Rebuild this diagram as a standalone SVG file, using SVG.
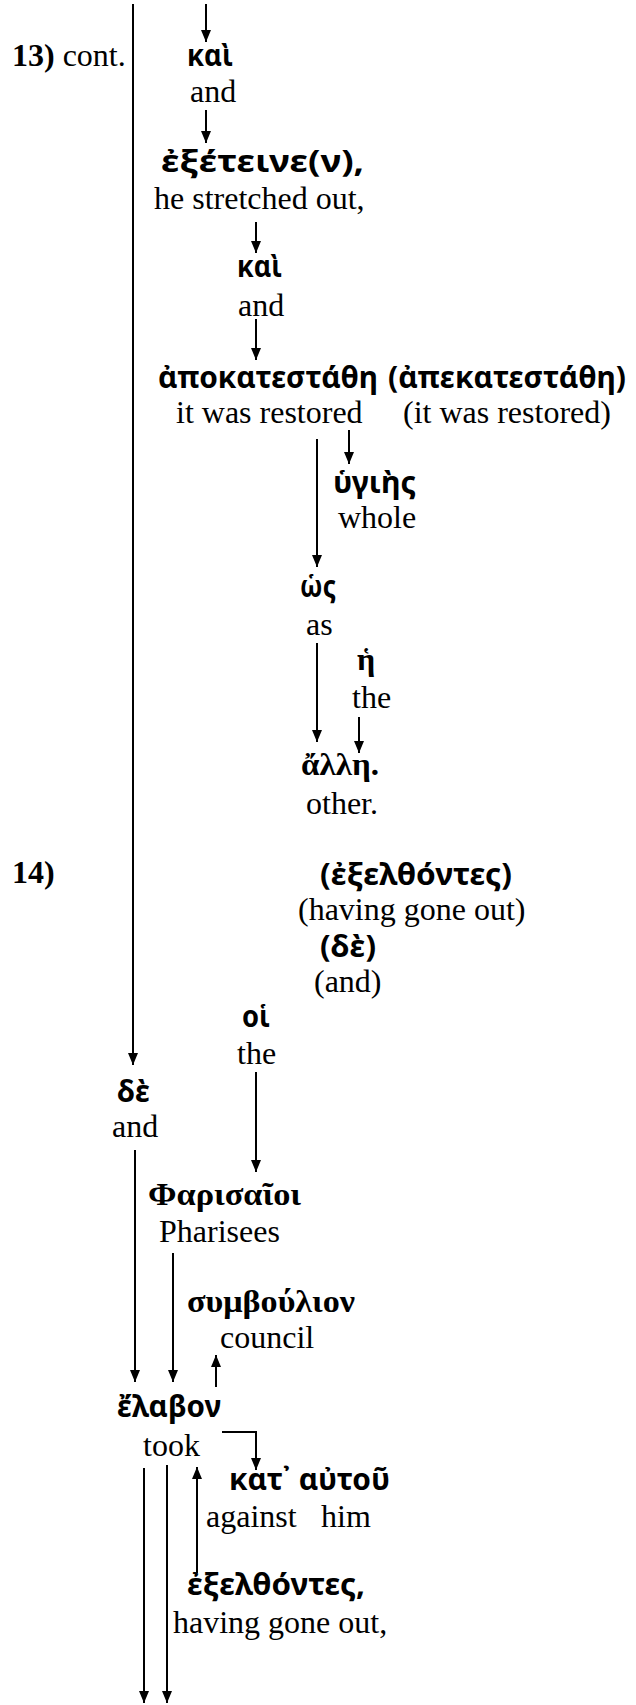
<svg xmlns="http://www.w3.org/2000/svg" width="636" height="1705" viewBox="0 0 636 1705">
<style>
.en{font-family:"Liberation Serif","Times New Roman",serif;font-size:32px;fill:#000}
.num{font-family:"Liberation Serif","Times New Roman",serif;font-size:32px;font-weight:bold;fill:#000}
.gk{font-family:"Noto Sans","DejaVu Sans",sans-serif;font-size:30px;font-weight:bold;fill:#000}
.gs{font-family:"Liberation Serif","Times New Roman",serif;font-size:32px;font-weight:bold;fill:#000}
.ar{stroke:#000;stroke-width:2;fill:none;marker-end:url(#ah)}
</style>
<defs>
<marker id="ah" markerUnits="userSpaceOnUse" markerWidth="12" markerHeight="10" viewBox="0 0 12 10" refX="12" refY="5" orient="auto">
<path d="M0,0 L12,5 L0,10 z" fill="#000"/>
</marker>
</defs>
<rect width="636" height="1705" fill="#fff"/>
<g id="connectors">
<line class="ar" x1="133" y1="4" x2="133" y2="1065"/>
<line class="ar" x1="206" y1="4" x2="206" y2="42"/>
<line class="ar" x1="206" y1="110" x2="206" y2="143"/>
<line class="ar" x1="256" y1="222" x2="256" y2="253"/>
<line class="ar" x1="256" y1="319" x2="256" y2="360"/>
<line class="ar" x1="349" y1="430" x2="349" y2="464"/>
<line class="ar" x1="317" y1="439" x2="317" y2="567"/>
<line class="ar" x1="317" y1="643" x2="317" y2="742"/>
<line class="ar" x1="359" y1="717" x2="359" y2="753"/>
<line class="ar" x1="256" y1="1072" x2="256" y2="1172"/>
<line class="ar" x1="135" y1="1150" x2="135" y2="1382"/>
<line class="ar" x1="173" y1="1253" x2="173" y2="1382"/>
<line class="ar" x1="216" y1="1387" x2="216" y2="1355"/>
<path class="ar" d="M222,1432 H256 V1470"/>
<line class="ar" x1="197" y1="1573" x2="197" y2="1467"/>
<line class="ar" x1="144" y1="1468" x2="144" y2="1703"/>
<line class="ar" x1="167" y1="1465" x2="167" y2="1703"/>
</g>
<g id="label13"><text class="num" x="12" y="66">13)<tspan class="en" font-weight="normal"> cont.</tspan></text></g>
<g id="kai1"><text class="gk" x="187" y="66" textLength="46" lengthAdjust="spacingAndGlyphs">καὶ</text><text class="en" x="190" y="102">and</text></g>
<g id="exeteine"><text class="gk" x="161" y="172" textLength="203" lengthAdjust="spacingAndGlyphs">ἐξέτεινε(ν),</text><text class="en" x="154" y="209">he stretched out,</text></g>
<g id="kai2"><text class="gk" x="237" y="277" textLength="45" lengthAdjust="spacingAndGlyphs">καὶ</text><text class="en" x="238" y="316">and</text></g>
<g id="apokatestathe"><text class="gk" x="158" y="388" textLength="220" lengthAdjust="spacingAndGlyphs">ἀποκατεστάθη</text><text class="gk" x="388" y="388" textLength="238" lengthAdjust="spacingAndGlyphs">(ἀπεκατεστάθη)</text><text class="en" x="176" y="423">it was restored</text><text class="en" x="403" y="423">(it was restored)</text></g>
<g id="hygies"><text class="gk" x="333" y="493" textLength="83" lengthAdjust="spacingAndGlyphs">ὑγιὴς</text><text class="en" x="338" y="528">whole</text></g>
<g id="hos"><text class="gk" x="300" y="597" textLength="36" lengthAdjust="spacingAndGlyphs">ὡς</text><text class="en" x="306" y="635">as</text></g>
<g id="he"><text class="gs" x="357" y="670">ἡ</text><text class="en" x="352" y="708">the</text></g>
<g id="alle"><text class="gs" x="301" y="775" textLength="78" lengthAdjust="spacingAndGlyphs">ἄλλη.</text><text class="en" x="306" y="814">other.</text></g>
<g id="label14"><text class="num" x="12" y="883">14)</text></g>
<g id="exelthontes1"><text class="gk" x="320" y="885" textLength="192" lengthAdjust="spacingAndGlyphs">(ἐξελθόντες)</text><text class="en" x="298" y="920">(having gone out)</text></g>
<g id="de1"><text class="gk" x="320" y="957" textLength="56" lengthAdjust="spacingAndGlyphs">(δὲ)</text><text class="en" x="314" y="992">(and)</text></g>
<g id="hoi"><text class="gk" x="242" y="1027" textLength="28" lengthAdjust="spacingAndGlyphs">οἱ</text><text class="en" x="237" y="1064">the</text></g>
<g id="de2"><text class="gk" x="117" y="1102" textLength="33" lengthAdjust="spacingAndGlyphs">δὲ</text><text class="en" x="112" y="1137">and</text></g>
<g id="pharisaioi"><text class="gs" x="148" y="1205" textLength="153" lengthAdjust="spacingAndGlyphs">Φαρισαῖοι</text><text class="en" x="159" y="1242">Pharisees</text></g>
<g id="symboulion"><text class="gs" x="187" y="1312" textLength="168" lengthAdjust="spacingAndGlyphs">συμβούλιον</text><text class="en" x="220" y="1348">council</text></g>
<g id="elabon"><text class="gk" x="117" y="1417" textLength="104" lengthAdjust="spacingAndGlyphs">ἔλαβον</text><text class="en" x="143" y="1456">took</text></g>
<g id="kat-autou"><text class="gk" x="229" y="1490" textLength="161" lengthAdjust="spacingAndGlyphs">κατ᾽ αὐτοῦ</text><text class="en" x="206" y="1527">against</text><text class="en" x="321" y="1527">him</text></g>
<g id="exelthontes2"><text class="gk" x="187" y="1595" textLength="178" lengthAdjust="spacingAndGlyphs">ἐξελθόντες,</text><text class="en" x="173" y="1633">having gone out,</text></g>
</svg>
